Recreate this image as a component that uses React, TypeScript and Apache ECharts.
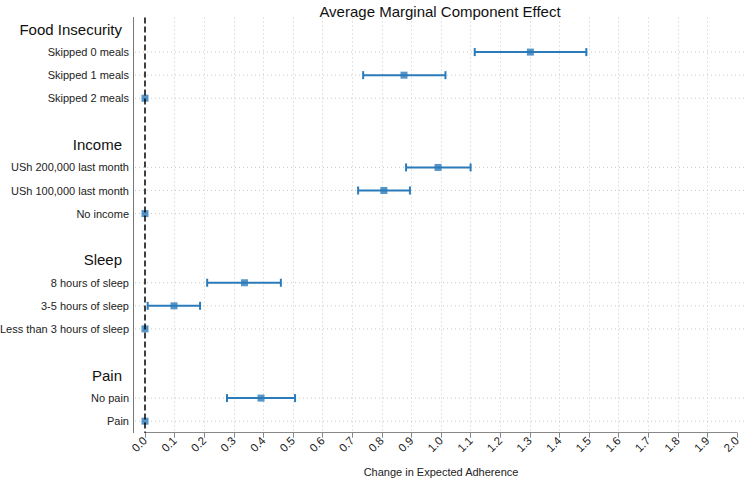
import React, { useEffect, useRef } from 'react';
import * as echarts from 'echarts';

const groupHeaders = ['Food Insecurity', 'Income', 'Sleep', 'Pain'];
const foodLevels = ['Skipped 0 meals', 'Skipped 1 meals', 'Skipped 2 meals'];
const incomeLevels = ['USh 200,000 last month', 'USh 100,000 last month', 'No income'];
const sleepLevels = ['8 hours of sleep', '3-5 hours of sleep', 'Less than 3 hours of sleep'];
const painLevels = ['No pain', 'Pain'];

const estimates = [1.302, 0.875, 0, 0.99, 0.807, 0, 0.336, 0.098, 0, 0.392, 0];
const lowerCI = [1.114, 0.737, 0, 0.882, 0.72, 0, 0.21, 0.009, 0, 0.277, 0];
const upperCI = [1.491, 1.015, 0, 1.1, 0.895, 0, 0.459, 0.186, 0, 0.507, 0];

const BLUE = '#2b7bba';

export default function App() {
  const ref = useRef<HTMLDivElement>(null);

  useEffect(() => {
    if (!ref.current) return;
    const chart = echarts.init(ref.current, null, { renderer: 'svg' });

    const groups = [foodLevels, incomeLevels, sleepLevels, painLevels];
    const categories: string[] = [];
    const levelKeys: string[] = [];
    groups.forEach((lv, gi) => {
      categories.push('H|' + groupHeaders[gi]);
      lv.forEach((l) => {
        categories.push('L|' + l);
        levelKeys.push('L|' + l);
      });
      if (gi < groups.length - 1) categories.push('G|' + gi);
    });

    const pointData = levelKeys.map((k, i) => [estimates[i], k]);
    const barData = levelKeys
      .map((k, i) => [lowerCI[i], upperCI[i], categories.indexOf(k)])
      .filter((d) => d[1] > d[0]);

    chart.setOption({
      animation: false,
      title: {
        text: 'Average Marginal Component Effect',
        left: 435,
        top: -1,
        textAlign: 'center',
        textStyle: { fontSize: 15, fontWeight: 'normal', color: '#111', fontFamily: 'Liberation Sans' },
      },
      grid: { left: 145, right: 12, top: 17.5, bottom: 48.3, outerBoundsMode: 'none', containLabel: false },
      xAxis: {
        type: 'value',
        min: 0,
        max: 2,
        interval: 0.1,
        name: 'Change in Expected Adherence',
        nameLocation: 'middle',
        nameGap: 34,
        nameTextStyle: { fontSize: 11, color: '#222', fontFamily: 'Liberation Sans' },
        axisLine: { show: true, onZero: false, lineStyle: { color: '#888', width: 1 } },
        axisTick: { show: true, length: 5, lineStyle: { color: '#888' } },
        axisLabel: {
          rotate: 45,
          margin: 6,
          fontSize: 11.5,
          color: '#222',
          fontFamily: 'Liberation Sans',
          formatter: (v: number) => v.toFixed(1),
        },
        splitLine: {
          show: true,
          showMinLine: false,
          showMaxLine: false,
          lineStyle: { color: '#c8c8c8', type: [1, 3], width: 1 },
        },
      },
      yAxis: {
        type: 'category',
        data: categories,
        inverse: true,
        offset: 12,
        axisLine: { show: true, onZero: false, lineStyle: { color: '#777', width: 1 } },
        axisTick: { show: false },
        splitLine: { show: false },
        axisLabel: {
          margin: 4,
          fontFamily: 'Liberation Sans',
          formatter: (v: string) => {
            if (v.startsWith('H|')) return '{h|' + v.slice(2) + '}';
            if (v.startsWith('L|')) return '{l|' + v.slice(2) + '}';
            return '';
          },
          rich: {
            h: { fontSize: 15, color: '#111', fontFamily: 'Liberation Sans', padding: [0, 7, 0, 0] },
            l: { fontSize: 11, color: '#222', fontFamily: 'Liberation Sans' },
          },
        },
      },
      series: [
        {
          type: 'custom',
          z: 3,
          renderItem: (params: any, api: any) => {
            const lo = api.coord([api.value(0), api.value(2)]);
            const hi = api.coord([api.value(1), api.value(2)]);
            const c = 4;
            const style = { stroke: BLUE, lineWidth: 2, fill: 'none' };
            return {
              type: 'group',
              children: [
                { type: 'line', shape: { x1: lo[0], y1: lo[1], x2: hi[0], y2: hi[1] }, style },
                { type: 'line', shape: { x1: lo[0], y1: lo[1] - c, x2: lo[0], y2: lo[1] + c }, style },
                { type: 'line', shape: { x1: hi[0], y1: hi[1] - c, x2: hi[0], y2: hi[1] + c }, style },
              ],
            };
          },
          encode: { x: [0, 1], y: 2 },
          data: barData,
        },
        {
          type: 'scatter',
          z: 4,
          symbol: 'rect',
          symbolSize: 7,
          itemStyle: { color: BLUE },
          data: pointData,
          markLine: {
            silent: true,
            symbol: 'none',
            label: { show: false },
            lineStyle: { color: '#000', type: [6, 3], width: 1.5 },
            data: [{ xAxis: 0 }],
          },
        },
      ],
    });

    const graphics: any[] = [];
    levelKeys.forEach((k) => {
      const y = chart.convertToPixel({ yAxisIndex: 0 }, k) as number;
      graphics.push({
        type: 'line',
        silent: true,
        z: 0,
        shape: { x1: 135, y1: y, x2: 746, y2: y },
        style: { stroke: '#c8c8c8', lineWidth: 1, lineDash: [1, 3] },
      });
    });
    chart.setOption({ graphic: graphics });

    return () => chart.dispose();
  }, []);

  return (
    <div
      ref={ref}
      style={{ position: 'fixed', left: 0, top: 0, width: 749, height: 481, background: '#fff' }}
    />
  );
}
